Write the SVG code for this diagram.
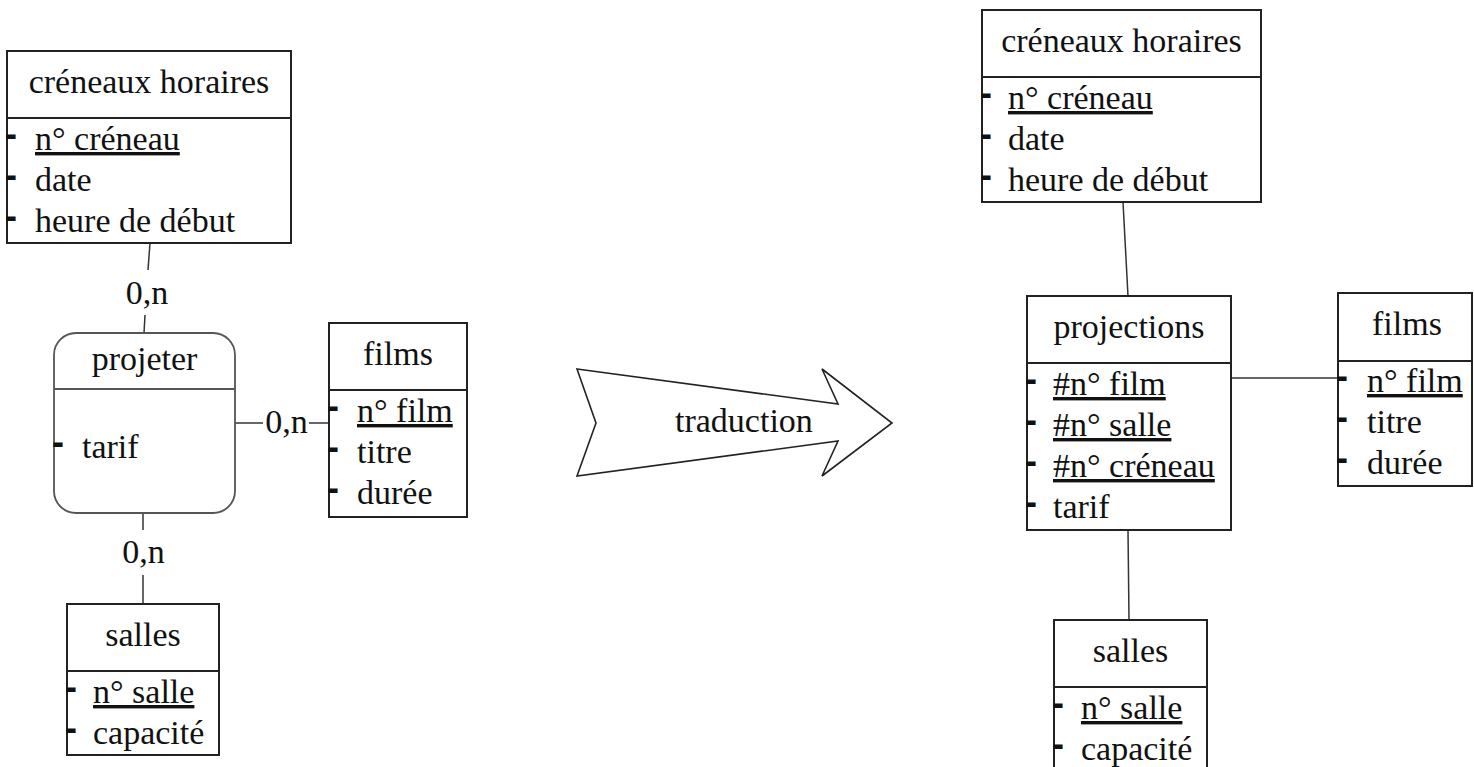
<svg xmlns="http://www.w3.org/2000/svg" width="1474" height="767" viewBox="0 0 1474 767">
  <style>
    .box { fill: #fff; stroke: #222; stroke-width: 2; }
    .rel { fill: #fff; stroke: #555; stroke-width: 1.8; }
    .sep { stroke: #222; stroke-width: 2; }
    .sepr { stroke: #555; stroke-width: 1.8; }
    .ln { stroke: #333; stroke-width: 1.5; fill: none; }
    .t { font-family: 'Liberation Serif', 'Times New Roman', serif; font-size: 34px; fill: #111; }
    .c { text-anchor: middle; }
    .u { text-decoration: underline; }
    .d { font-family: 'Liberation Sans', Arial, sans-serif; font-weight: bold; font-size: 36px; fill: #111; }
    .arrow { fill: #fff; stroke: #222; stroke-width: 1.6; stroke-linejoin: miter; }
  </style>

  <rect width="1474" height="767" fill="#fff"/>

  <!-- connectors and cardinalities -->
  <g id="connectors">
    <line class="ln" x1="150" y1="243" x2="148" y2="270"/>
    <line class="ln" x1="145" y1="315" x2="144" y2="333"/>
    <text class="t c" x="147" y="304">0,n</text>

    <line class="ln" x1="235" y1="423" x2="263" y2="423"/>
    <line class="ln" x1="309" y1="423" x2="329" y2="423"/>
    <text class="t c" x="286.5" y="433">0,n</text>

    <line class="ln" x1="143" y1="513" x2="143" y2="530"/>
    <line class="ln" x1="143" y1="575" x2="143" y2="604"/>
    <text class="t c" x="143.5" y="563">0,n</text>

    <line class="ln" x1="1123" y1="202" x2="1128" y2="296"/>
    <line class="ln" x1="1128" y1="530" x2="1129" y2="620"/>
    <line class="ln" x1="1231" y1="378" x2="1338" y2="378"/>
  </g>

  <!-- conceptual model (left) -->
  <g id="creneaux-mcd">
    <rect class="box" x="7" y="51" width="284" height="192"/>
    <line class="sep" x1="7" y1="118" x2="291" y2="118"/>
    <text class="t c" x="149" y="93">créneaux horaires</text>
    <text class="d" x="5" y="146">-</text>
    <text class="t u" x="35" y="150">n° créneau</text>
    <text class="d" x="5" y="187">-</text>
    <text class="t" x="35" y="191">date</text>
    <text class="d" x="5" y="228">-</text>
    <text class="t" x="35" y="232">heure de début</text>
  </g>

  <g id="projeter">
    <rect class="rel" x="54" y="333" width="181" height="180" rx="22" ry="22"/>
    <line class="sepr" x1="54" y1="389" x2="235" y2="389"/>
    <text class="t c" x="144.5" y="370">projeter</text>
    <text class="d" x="52" y="454">-</text>
    <text class="t" x="82" y="458">tarif</text>
  </g>

  <g id="films-mcd">
    <rect class="box" x="329" y="323" width="138" height="194"/>
    <line class="sep" x1="329" y1="390" x2="467" y2="390"/>
    <text class="t c" x="398" y="365">films</text>
    <text class="d" x="327" y="418">-</text>
    <text class="t u" x="357" y="422">n° film</text>
    <text class="d" x="327" y="459">-</text>
    <text class="t" x="357" y="463">titre</text>
    <text class="d" x="327" y="500">-</text>
    <text class="t" x="357" y="504">durée</text>
  </g>

  <g id="salles-mcd">
    <rect class="box" x="67" y="604" width="152" height="151"/>
    <line class="sep" x1="67" y1="671" x2="219" y2="671"/>
    <text class="t c" x="143" y="646">salles</text>
    <text class="d" x="65" y="699">-</text>
    <text class="t u" x="93" y="703">n° salle</text>
    <text class="d" x="65" y="740">-</text>
    <text class="t" x="93" y="744">capacité</text>
  </g>

  <!-- translation arrow -->
  <g id="traduction">
    <polygon class="arrow" points="577,369 838,404 822,369 892,423 822,476 838,441 577,476 596,423"/>
    <text x="675" y="432" font-family="Liberation Serif, serif" font-size="34" fill="#111">traduction</text>
  </g>

  <!-- logical model (right) -->
  <g id="creneaux-mld">
    <rect class="box" x="982" y="10" width="279" height="192"/>
    <line class="sep" x1="982" y1="77" x2="1261" y2="77"/>
    <text class="t c" x="1121.5" y="52">créneaux horaires</text>
    <text class="d" x="980" y="105">-</text>
    <text class="t u" x="1008" y="109">n° créneau</text>
    <text class="d" x="980" y="146">-</text>
    <text class="t" x="1008" y="150">date</text>
    <text class="d" x="980" y="187">-</text>
    <text class="t" x="1008" y="191">heure de début</text>
  </g>

  <g id="projections">
    <rect class="box" x="1027" y="296" width="204" height="234"/>
    <line class="sep" x1="1027" y1="363" x2="1231" y2="363"/>
    <text class="t c" x="1129" y="338">projections</text>
    <text class="d" x="1025" y="391">-</text>
    <text class="t u" x="1053" y="395">#n° film</text>
    <text class="d" x="1025" y="432">-</text>
    <text class="t u" x="1053" y="436">#n° salle</text>
    <text class="d" x="1025" y="473">-</text>
    <text class="t u" x="1053" y="477">#n° créneau</text>
    <text class="d" x="1025" y="514">-</text>
    <text class="t" x="1053" y="518">tarif</text>
  </g>

  <g id="films-mld">
    <rect class="box" x="1338" y="293" width="134" height="193"/>
    <line class="sep" x1="1338" y1="361" x2="1472" y2="361"/>
    <text class="t c" x="1407" y="335">films</text>
    <text class="d" x="1336" y="388">-</text>
    <text class="t u" x="1367" y="392">n° film</text>
    <text class="d" x="1336" y="429">-</text>
    <text class="t" x="1367" y="433">titre</text>
    <text class="d" x="1336" y="470">-</text>
    <text class="t" x="1367" y="474">durée</text>
  </g>

  <g id="salles-mld">
    <rect class="box" x="1054" y="620" width="153" height="170"/>
    <line class="sep" x1="1054" y1="687" x2="1207" y2="687"/>
    <text class="t c" x="1130.5" y="662">salles</text>
    <text class="d" x="1052" y="715">-</text>
    <text class="t u" x="1081" y="719">n° salle</text>
    <text class="d" x="1052" y="756">-</text>
    <text class="t" x="1081" y="760">capacité</text>
  </g>
</svg>
